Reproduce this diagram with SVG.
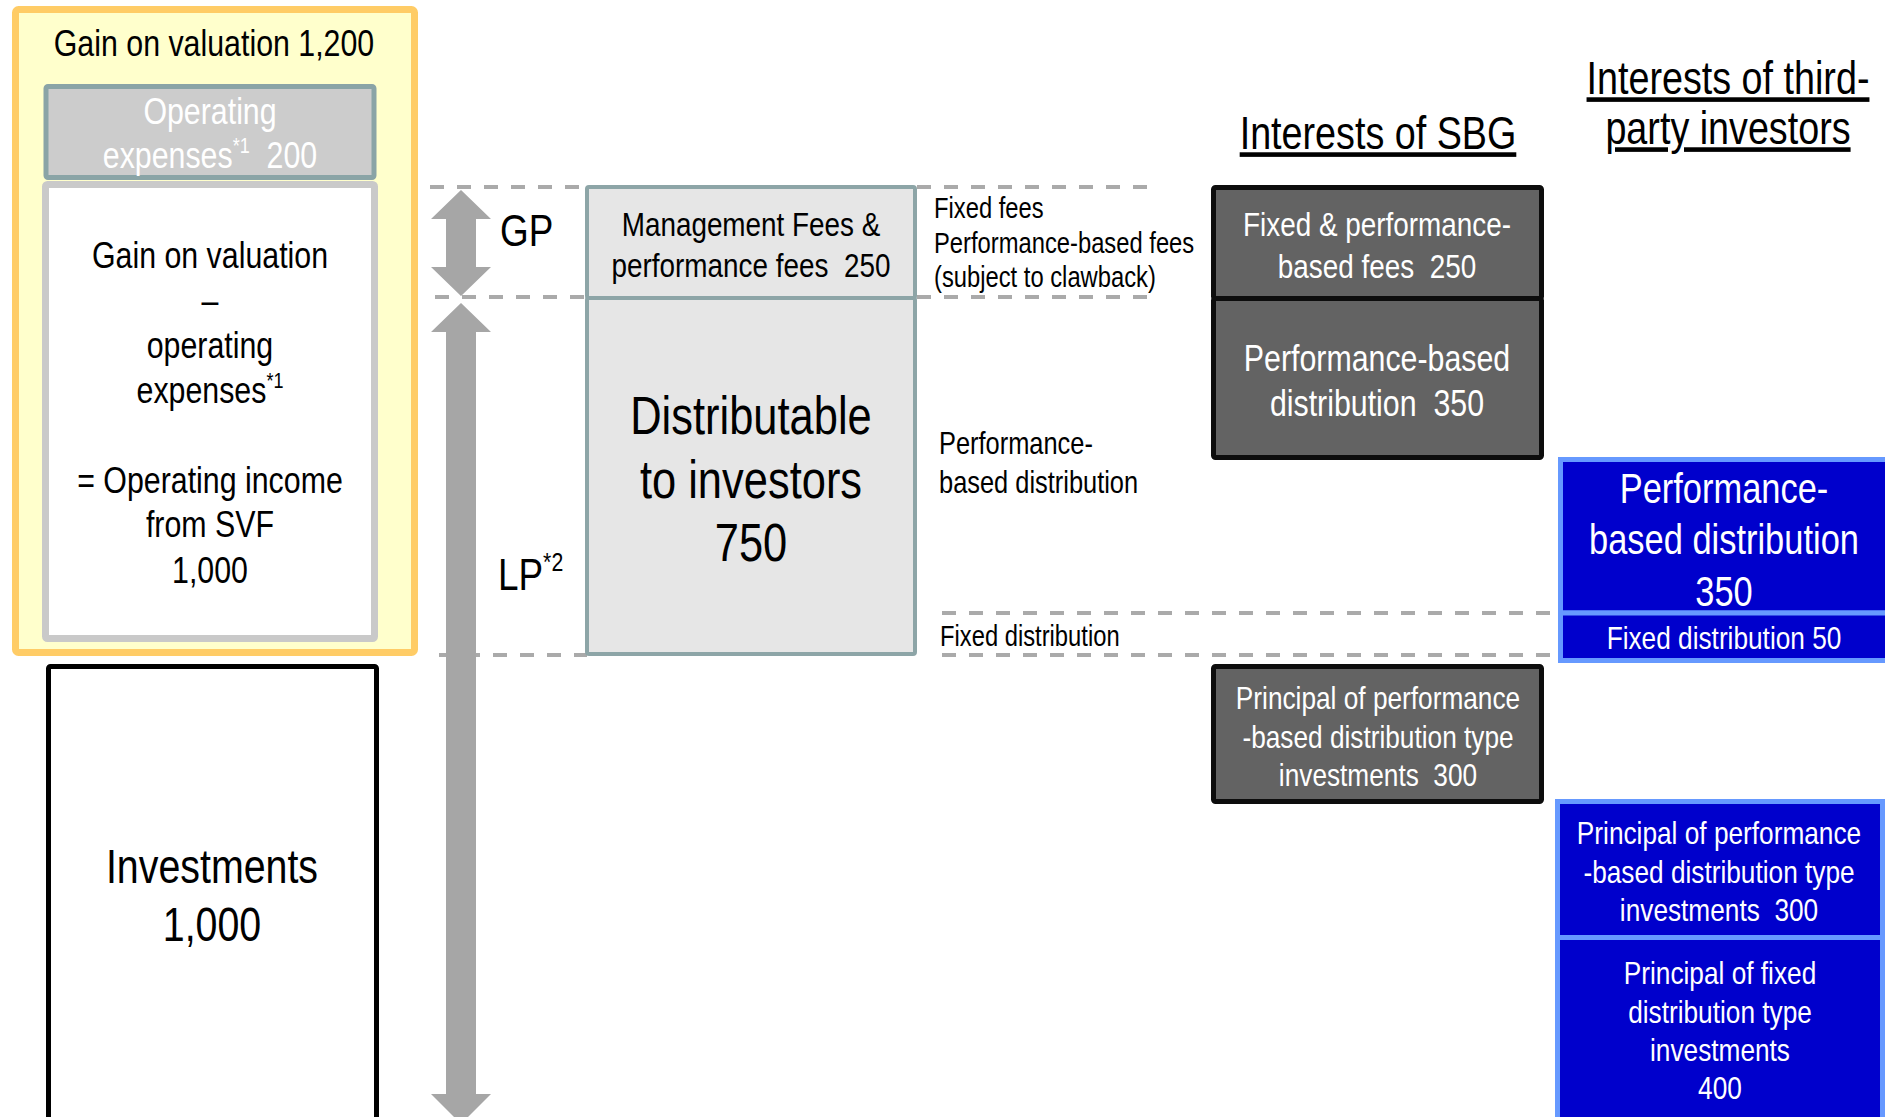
<svg xmlns="http://www.w3.org/2000/svg" width="1885" height="1117" viewBox="0 0 1885 1117">
  <style>
    /* condensed sans: Arial-metric face narrowed to Arial Narrow widths */
    text { font-family: "Liberation Sans", Arial, sans-serif; fill: #000; white-space: pre;
           transform-box: fill-box; transform-origin: center; transform: scaleX(0.82); }
    .c { text-anchor: middle; }
    .l { transform-origin: left center; }
    .w { fill: #fff; }
    .guide { fill: none; stroke: #aaaaaa; stroke-width: 4; stroke-dasharray: 14 13; }
    .arrow { fill: #a6a6a6; }
    .fund { fill: #e6e6e6; stroke: #8da5a7; stroke-width: 4; }
    .sbg { fill: #636363; stroke: #0d0d0d; stroke-width: 5; }
    .lp { fill: #0000cc; stroke: #6699ff; stroke-width: 5; }
    .hdr { font-size: 46px; text-decoration: underline; }
  </style>

  <!-- Gain on valuation split into expenses and operating income -->
  <g id="gain-valuation">
    <rect x="15.5" y="9.5" width="399" height="643" rx="3" fill="#ffffcc" stroke="#ffcc66" stroke-width="7"/>
    <text class="c" x="214" y="56" font-size="37">Gain on valuation 1,200</text>
  </g>
  <g id="operating-expenses">
    <rect x="46" y="86.5" width="328" height="91" rx="2" fill="#cccccc" stroke="#8aa4a6" stroke-width="5"/>
    <text class="c w" x="210" y="124" font-size="37">Operating</text>
    <text class="c w" x="210" y="168" font-size="37">expenses<tspan font-size="22" dy="-15">*1</tspan><tspan dy="15">  200</tspan></text>
  </g>
  <g id="operating-income">
    <rect x="45.5" y="184.5" width="329" height="454" rx="2" fill="#ffffff" stroke="#c9c9c9" stroke-width="7"/>
    <text class="c" x="210" y="268" font-size="37">Gain on valuation</text>
    <text class="c" x="210" y="313" font-size="37">–</text>
    <text class="c" x="210" y="358" font-size="37">operating</text>
    <text class="c" x="210" y="403" font-size="37">expenses<tspan font-size="22" dy="-15">*1</tspan></text>
    <text class="c" x="210" y="493" font-size="37">= Operating income</text>
    <text class="c" x="210" y="537" font-size="37">from SVF</text>
    <text class="c" x="210" y="583" font-size="37">1,000</text>
  </g>
  <g id="investments">
    <rect x="48.5" y="666.5" width="328" height="500" rx="2" fill="#ffffff" stroke="#000000" stroke-width="5"/>
    <text class="c" x="212" y="883" font-size="48">Investments</text>
    <text class="c" x="212" y="941" font-size="48">1,000</text>
  </g>

  <!-- Guide lines and GP / LP arrows -->
  <g id="connectors">
    <line class="guide" x1="430" y1="187" x2="587" y2="187"/>
    <line class="guide" x1="917" y1="187" x2="1157" y2="187"/>
    <line class="guide" x1="435" y1="297" x2="587" y2="297"/>
    <line class="guide" x1="917" y1="297" x2="1157" y2="297"/>
    <line class="guide" x1="942" y1="613" x2="1550" y2="613"/>
    <line class="guide" x1="439" y1="655" x2="587" y2="655"/>
    <line class="guide" x1="942" y1="655" x2="1550" y2="655"/>
    <polygon id="gp-arrow" class="arrow" points="461,190 491,219 476,219 476,267 491,267 461,296 431,267 446,267 446,219 431,219"/>
    <polygon id="lp-arrow" class="arrow" points="461,303 491,332 476,332 476,1094 491,1094 461,1124 431,1094 446,1094 446,332 431,332"/>
  </g>

  <g id="gp-label">
    <text class="l" x="500" y="246" font-size="45">GP</text>
  </g>
  <g id="lp-label">
    <text class="l" x="498" y="590" font-size="45">LP<tspan font-size="26" dy="-19">*2</tspan></text>
  </g>

  <!-- Fund level: fees and distributable amount -->
  <g id="management-fees">
    <rect class="fund" x="587" y="187" width="328" height="111" rx="2"/>
    <text class="c" x="751" y="236" font-size="34">Management Fees &amp;</text>
    <text class="c" x="751" y="277" font-size="34">performance fees  250</text>
  </g>
  <g id="distributable">
    <rect class="fund" x="587" y="298" width="328" height="356" rx="2"/>
    <text class="c" x="751" y="434" font-size="53">Distributable</text>
    <text class="c" x="751" y="498" font-size="53">to investors</text>
    <text class="c" x="751" y="561" font-size="53">750</text>
  </g>

  <g id="fee-notes">
    <text class="l" x="934" y="218" font-size="29">Fixed fees</text>
    <text class="l" x="934" y="253" font-size="29">Performance-based fees</text>
    <text class="l" x="934" y="287" font-size="29">(subject to clawback)</text>
  </g>
  <g id="distribution-notes">
    <text class="l" x="939" y="454" font-size="31">Performance-</text>
    <text class="l" x="939" y="493" font-size="31">based distribution</text>
    <text class="l" x="940" y="646" font-size="29">Fixed distribution</text>
  </g>

  <!-- Column headers -->
  <g id="header-sbg">
    <text class="c hdr" x="1378" y="149">Interests of SBG</text>
  </g>
  <g id="header-third-party">
    <text class="c hdr" x="1728" y="94">Interests of third-</text>
    <text class="c hdr" x="1728" y="144">party investors</text>
  </g>

  <!-- SBG interests -->
  <g id="sbg-fees">
    <rect class="sbg" x="1213.5" y="187.5" width="328" height="111" rx="2"/>
    <text class="c w" x="1377" y="236" font-size="34">Fixed &amp; performance-</text>
    <text class="c w" x="1377" y="278" font-size="34">based fees  250</text>
  </g>
  <g id="sbg-performance-distribution">
    <rect class="sbg" x="1213.5" y="298.5" width="328" height="159" rx="2"/>
    <text class="c w" x="1377" y="371" font-size="37">Performance-based</text>
    <text class="c w" x="1377" y="416" font-size="37">distribution  350</text>
  </g>
  <g id="sbg-principal">
    <rect class="sbg" x="1213.5" y="666.5" width="328" height="135" rx="2"/>
    <text class="c w" x="1378" y="709" font-size="32">Principal of performance</text>
    <text class="c w" x="1378" y="748" font-size="32">-based distribution type</text>
    <text class="c w" x="1378" y="786" font-size="32">investments  300</text>
  </g>

  <!-- Third-party investor interests -->
  <g id="lp-performance-distribution">
    <rect class="lp" x="1560.5" y="459.5" width="340" height="153.5"/>
    <text class="c w" x="1724" y="503" font-size="42">Performance-</text>
    <text class="c w" x="1724" y="554" font-size="42">based distribution</text>
    <text class="c w" x="1724" y="606" font-size="42">350</text>
  </g>
  <g id="lp-fixed-distribution">
    <rect class="lp" x="1560.5" y="613" width="340" height="47.5"/>
    <text class="c w" x="1724" y="649" font-size="32">Fixed distribution 50</text>
  </g>
  <g id="lp-performance-principal">
    <rect class="lp" x="1557.5" y="801.5" width="325" height="136"/>
    <text class="c w" x="1719" y="844" font-size="32">Principal of performance</text>
    <text class="c w" x="1719" y="883" font-size="32">-based distribution type</text>
    <text class="c w" x="1719" y="921" font-size="32">investments  300</text>
  </g>
  <g id="lp-fixed-principal">
    <rect class="lp" x="1557.5" y="937.5" width="325" height="200"/>
    <text class="c w" x="1720" y="984" font-size="32">Principal of fixed</text>
    <text class="c w" x="1720" y="1023" font-size="32">distribution type</text>
    <text class="c w" x="1720" y="1061" font-size="32">investments</text>
    <text class="c w" x="1720" y="1099" font-size="32">400</text>
  </g>
</svg>
